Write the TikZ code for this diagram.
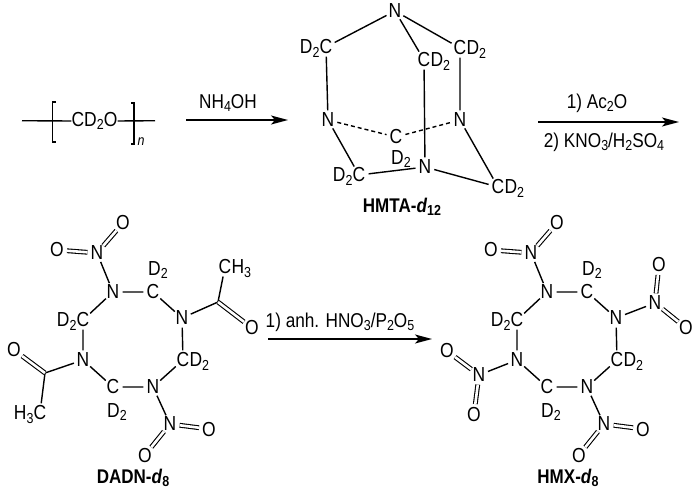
\documentclass[tikz,border=0pt]{standalone}
\usepackage{fontspec}
\setmainfont[FakeStretch=0.86]{Liberation Sans}
\usetikzlibrary{arrows.meta}
\newcommand{\dn}[1]{\raisebox{-3.5pt}{\fontsize{14.5}{14.5}\selectfont #1}}
\tikzset{
  atom/.style={circle,inner sep=0pt,minimum size=15pt,font=\fontsize{20.3}{20}\selectfont},
  txt/.style={inner sep=0pt,font=\fontsize{20.3}{20}\selectfont},
  title/.style={inner sep=0pt,font=\fontsize{19.8}{20}\selectfont\bfseries},
  reag/.style={inner sep=0pt,font=\fontsize{20}{20}\selectfont},
  bond/.style={draw,line width=1.4pt},
  dbl/.style={draw,line width=1.1pt,double,double distance=2.6pt},
  dsh/.style={draw,line width=1.4pt,dash pattern=on 4pt off 3pt},
  rxn/.style={draw,line width=1.4pt,-{Stealth[length=17pt,width=9pt,inset=4pt]}}
}
% eight-membered ring with its two shared nitro groups: #1 prefix
\newcommand{\octring}[1]{
  \node[atom] (#1n1) at (113,292) {N};
  \node[atom] (#1c1) at (153,292) {C};
  \node[txt]  (#1d1) at (158,270) {D\dn{2}};
  \node[atom] (#1n2) at (182,318) {N};
  \node[atom] (#1c2) at (183,360) {C};
  \node[txt,anchor=base west] (#1d2) at ([xshift=6.3pt]#1c2.base) {D\dn{2}};
  \node[atom] (#1n3) at (153,387) {N};
  \node[atom] (#1c3) at (113,387) {C};
  \node[txt]  (#1d3) at (117,412) {D\dn{2}};
  \node[atom] (#1n4) at (83,360) {N};
  \node[atom] (#1c4) at (83,320) {C};
  \node[txt,anchor=base east] (#1d4) at ([xshift=-6.3pt]#1c4.base) {D\dn{2}};
  \path[bond] (#1n1)--(#1c1) (#1c1)--(#1n2) (#1n2)--(#1c2) (#1c2)--(#1n3)
              (#1n3)--(#1c3) (#1c3)--(#1n4) (#1n4)--(#1c4) (#1c4)--(#1n1);
  \node[atom] (#1na) at (97,253) {N};
  \node[atom] (#1oa) at (57,250) {O};
  \node[atom] (#1ob) at (123,223) {O};
  \path[bond] (#1n1)--(#1na);
  \path[dbl] (#1na)--(#1oa);
  \path[dbl] (#1na)--(#1ob);
  \node[atom] (#1nb) at (170,424) {N};
  \node[atom] (#1oc) at (209,429) {O};
  \node[atom] (#1od) at (145,455) {O};
  \path[bond] (#1n3)--(#1nb);
  \path[dbl] (#1nb)--(#1oc);
  \path[dbl] (#1nb)--(#1od);
}
\begin{document}
\begin{tikzpicture}[x=1pt,y=-1pt]
\useasboundingbox (0,0) rectangle (700,491);
% polymer
\coordinate (pa) at (22,120.7);
\coordinate (pb) at (155,120.7);
\node[txt] (cd) at (94.5,121) {CD\dn{2}O};
\path[bond] (pa)--(cd.west);
\path[bond] (cd.east)--(pb);
\coordinate (bl1) at (56,102); \coordinate (bl2) at (52.7,102);
\coordinate (bl3) at (52.7,142); \coordinate (bl4) at (56,142);
\coordinate (br1) at (131,103); \coordinate (br2) at (134,103);
\coordinate (br3) at (134,144); \coordinate (br4) at (131,144);
\path[draw,line width=1.1pt] (bl1)--(bl2)--(bl3)--(bl4);
\path[draw,line width=1.1pt] (br1)--(br2)--(br3)--(br4);
\node[inner sep=0pt,font=\fontsize{14.5}{14.5}\selectfont\itshape] (nn) at (141,142) {n};
% arrow 1
\coordinate (a1s) at (186,120); \coordinate (a1e) at (288,120);
\path[rxn] (a1s)--(a1e);
\node[reag] (r1) at (228,103) {NH\dn{4}OH};
% HMTA
\node[atom] (t) at (395,11) {N};
\node[atom] (cl) at (326,47) {C};
\node[txt,anchor=base east] (cld) at ([xshift=-6.3pt]cl.base) {D\dn{2}};
\node[atom] (cr) at (460,48) {C};
\node[txt,anchor=base west] (crd) at ([xshift=6.3pt]cr.base) {D\dn{2}};
\node[atom] (cm) at (424,60) {C};
\node[txt,anchor=base west] (cmd) at ([xshift=6.3pt]cm.base) {D\dn{2}};
\node[atom] (nl) at (328,120) {N};
\node[atom] (nr) at (460,120) {N};
\node[atom] (cc) at (396,137) {C};
\node[atom] (nb) at (425,167) {N};
\node[txt] (ccd) at (401,159) {D\dn{2}};
\node[atom] (bl) at (359,175) {C};
\node[txt,anchor=base east] (bld) at ([xshift=-6.3pt]bl.base) {D\dn{2}};
\node[atom] (br) at (498,187) {C};
\node[txt,anchor=base west] (brd) at ([xshift=6.3pt]br.base) {D\dn{2}};
\path[bond] (t)--(cl) (t)--(cr) (t)--(cm) (cl)--(nl) (cr)--(nr) (cm)--(nb)
            (nl)--(bl) (nr)--(br) (bl)--(nb) (nb)--(br);
\path[dsh] (nl)--(cc);
\path[dsh] (cc)--(nr);
\node[title] (hmta) at (402,207) {HMTA-\textit{d}\dn{\bfseries 12}};
% arrow 2
\coordinate (a2s) at (538,122); \coordinate (a2e) at (679,122);
\path[rxn] (a2s)--(a2e);
\node[reag] (r2) at (597,103) {1) Ac\dn{2}O};
\node[reag] (r3) at (604,142) {2) KNO\dn{3}/H\dn{2}SO\dn{4}};
% DADN
\begin{scope}
\octring{a}
\coordinate (ac1) at (218,302);
\node[atom] (cm1) at (225,267) {C};
\node[txt,anchor=base west] (cm1h) at ([xshift=6.3pt]cm1.base) {H\dn{3}};
\node[atom] (ao1) at (252,328) {O};
\path[bond] (an2)--(ac1);
\path[bond] (ac1)--(cm1);
\path[dbl] (ac1)--(ao1);
\coordinate (ac2) at (45,373);
\node[atom] (cm2) at (40,413) {C};
\node[txt,anchor=base east] (cm2h) at ([xshift=-6.3pt]cm2.base) {H\dn{3}};
\node[atom] (ao2) at (14,350) {O};
\path[bond] (an4)--(ac2);
\path[bond] (ac2)--(cm2);
\path[dbl] (ac2)--(ao2);
\end{scope}
\node[title] (dadn) at (133,478) {DADN-\textit{d}\dn{\bfseries 8}};
% arrow 3
\coordinate (a3s) at (268,339); \coordinate (a3e) at (432,339);
\path[rxn] (a3s)--(a3e);
\node[reag] (r4) at (340,322) {1) anh. HNO\dn{3}/P\dn{2}O\dn{5}};
% HMX
\begin{scope}[shift={(434,0)}]
\octring{x}
\end{scope}
\node[atom] (xn5) at (655,303) {N};
\node[atom] (xo5) at (659,265) {O};
\node[atom] (xo6) at (686,328) {O};
\path[bond] (xn2)--(xn5);
\path[dbl] (xn5)--(xo5);
\path[dbl] (xn5)--(xo6);
\node[atom] (xn6) at (479,375) {N};
\node[atom] (xo7) at (447,351) {O};
\node[atom] (xo8) at (474,414) {O};
\path[bond] (xn4)--(xn6);
\path[dbl] (xn6)--(xo7);
\path[dbl] (xn6)--(xo8);
\node[title] (hmx) at (568,478) {HMX-\textit{d}\dn{\bfseries 8}};
\end{tikzpicture}
\end{document}
